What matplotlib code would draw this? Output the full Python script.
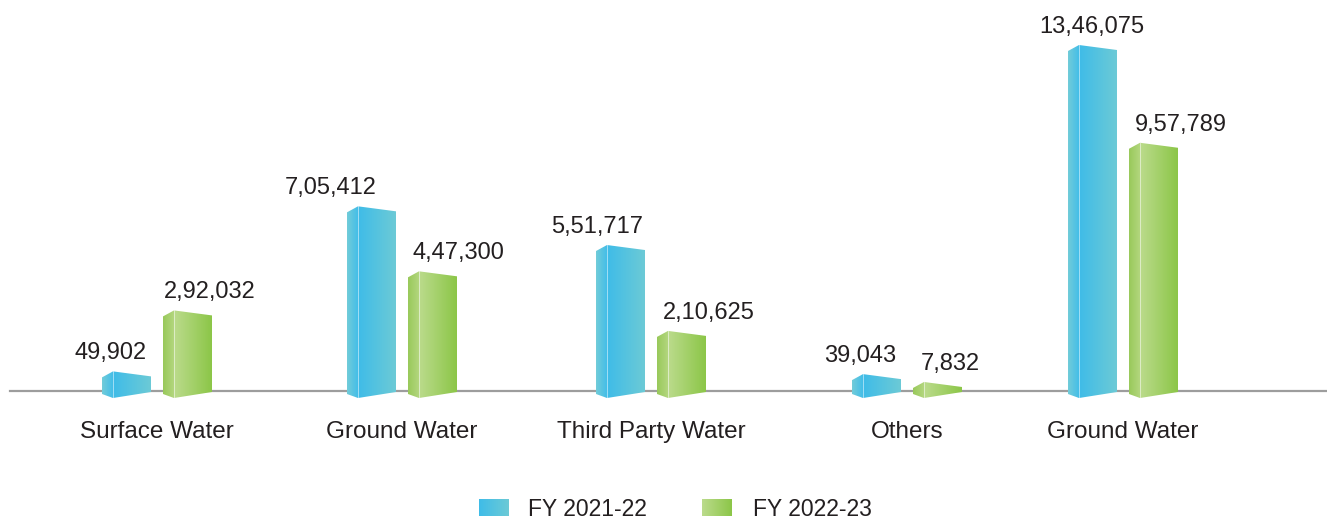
import numpy as np
import matplotlib
matplotlib.use("Agg")
import matplotlib.pyplot as plt
from matplotlib.patches import Polygon
from matplotlib.colors import to_rgb

# water withdrawal by source (kilolitres)
categories = ["Surface Water", "Ground Water", "Third Party Water", "Others", "Ground Water"]
fy2122 = [49902, 705412, 551717, 39043, 1346075]
fy2223 = [292032, 447300, 210625, 7832, 957789]
series_names = ["FY 2021-22", "FY 2022-23"]
y_floor = -28000           # value axis starts slightly below zero

# layout (pixel units across the canvas)
W, H = 1327, 519
base_px = 391              # baseline row, from top
top_px = 45                # row reached by the largest value
group_x = [157, 402, 651, 907, 1123]
lbl_dx = [[-46, -71, -54, -47, -31], [53, 56, 58, 43, 58]]
bar_off = [-55, 6]
side_w, front_w = 11, 38
rise, slope, dip = 6, 5, 7

front_cols = [("#3fbce8", "#6ccad6"), ("#bbdb8c", "#8cc648")]
side_cols = [("#72ccd9", "#44bee8"), ("#98c95a", "#b3d67e")]
txt_col = "#231f20"
font = "Liberation Sans"

vmax = max(fy2122 + fy2223)
u = (vmax - y_floor) / (base_px - top_px)      # data units per pixel


def py(p):
    return y_floor + (base_px - p) * u


def indian(n):
    s = str(n)
    if len(s) <= 3:
        return s
    head, tail = s[:-3], s[-3:]
    parts = []
    while len(head) > 2:
        parts.insert(0, head[-2:])
        head = head[:-2]
    if head:
        parts.insert(0, head)
    return ",".join(parts + [tail])


fig = plt.figure(figsize=(W / 100, H / 100), dpi=100)
ax = fig.add_axes([0, 0, 1, 1])
ax.set_axis_off()


def grad_face(pts, c0, c1, z):
    poly = Polygon(pts, closed=True, facecolor="none", edgecolor="none", zorder=z)
    ax.add_patch(poly)
    xs = [p[0] for p in pts]
    ys = [p[1] for p in pts]
    g = np.linspace(0, 1, 64)[None, :, None]
    img = (1 - g) * np.array(to_rgb(c0)) + g * np.array(to_rgb(c1))
    im = ax.imshow(img, extent=[min(xs), max(xs), min(ys), max(ys)],
                   aspect="auto", interpolation="bilinear", zorder=z)
    im.set_clip_path(poly)


def prism(x0, val, si):
    xe = x0 + side_w
    x1 = xe + front_w
    top = val
    b = y_floor
    side = [(x0, top - rise * u), (xe, top), (xe, b - dip * u), (x0, b - 3 * u)]
    front = [(xe, top), (x1, top - slope * u), (x1, b - 1 * u), (xe, b - dip * u)]
    grad_face(side, *side_cols[si], z=3)
    grad_face(front, *front_cols[si], z=3)
    ax.plot([xe, xe], [top, b - dip * u], color="white", lw=0.6, alpha=0.6, zorder=4)


ax.plot([10, W], [y_floor, y_floor], color="#9d9d9d", lw=1.6, zorder=2)

for i, c in enumerate(group_x):
    for si, vals in enumerate([fy2122, fy2223]):
        v = vals[i]
        prism(c + bar_off[si], v, si)
        ax.text(c + lbl_dx[si][i], v + 12 * u, indian(v),
                ha="center", va="baseline", fontsize=17, color=txt_col,
                family=font, zorder=5)
    ax.text(c, py(432), categories[i], ha="center", va="center",
            fontsize=17.5, color=txt_col, family=font)

# legend
leg_x = [479, 702]
txt_x = [528, 753]
for si, name in enumerate(series_names):
    x0 = leg_x[si]
    sq = [(x0, py(499)), (x0 + 30, py(499)), (x0 + 30, py(516)), (x0, py(516))]
    grad_face(sq, *front_cols[si], z=3)
    ax.text(txt_x[si], py(516), name, ha="left", va="baseline",
            fontsize=16.5, color=txt_col, family=font)

ax.set_xlim(0, W)
ax.set_ylim(py(H), py(0))
fig.savefig("out.png", dpi=100)
